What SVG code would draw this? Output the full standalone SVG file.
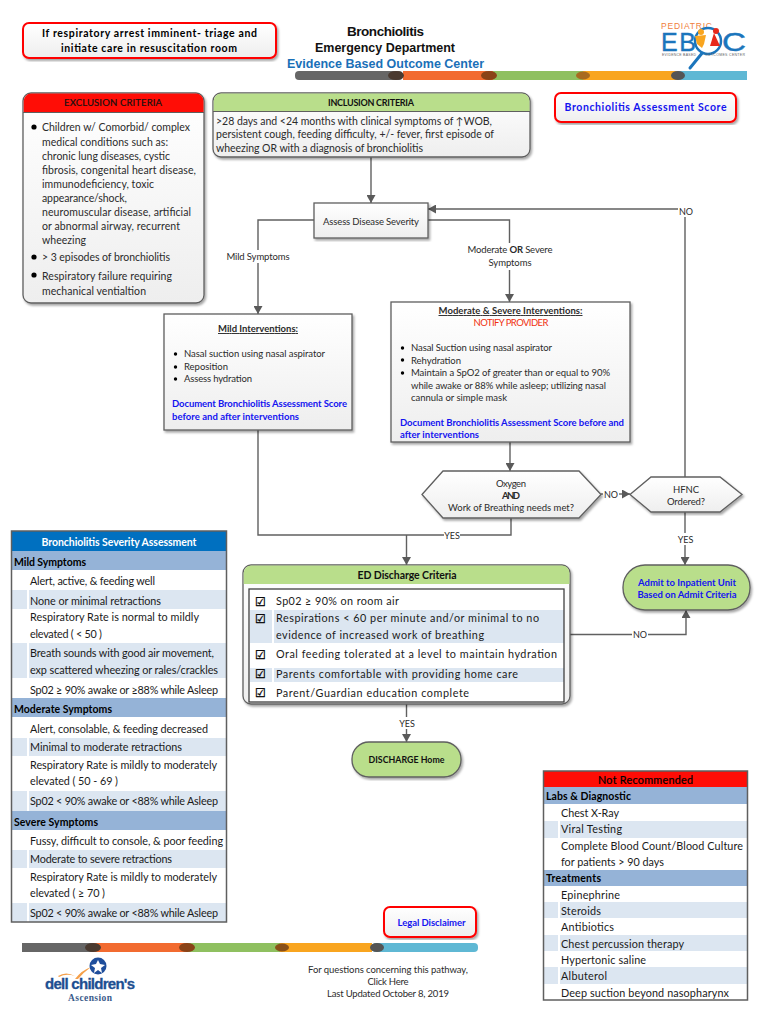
<svg xmlns="http://www.w3.org/2000/svg" width="770" height="1024" viewBox="0 0 770 1024">
<style>
text{font-family:Lato,"Carlito","DejaVu Sans",sans-serif;font-size:10.5px;fill:#2b2b2b}
.b{font-weight:700}.m{text-anchor:middle}
.t{font-size:10.8px;fill:#1a1a1a}
.tb{font-size:10.5px;font-weight:700;fill:#000}
.w{fill:#fff;font-weight:700;font-size:10.5px}
.lnk{fill:#1414f0;font-weight:700}
.s{font-size:9.500px}
.y{font-size:9px}
.a{font-family:"Liberation Sans",Arial,sans-serif;font-weight:700}
.ck{font-family:"DejaVu Sans",sans-serif;font-size:12px;fill:#000;stroke:#000;stroke-width:.3}
.lg{font-family:"Liberation Sans",sans-serif}
.box{fill:url(#g);stroke:#5f5f5f;stroke-width:1.3;filter:url(#sh)}
.red{fill:url(#g);stroke:#f00;stroke-width:2;filter:url(#sh)}
.grn{fill:#b9de8b;stroke:#5f5f5f;stroke-width:1.3;filter:url(#sh)}
.hg{fill:#b9de8b}.hr{fill:#ff0d06}
.r1{fill:#dce6f1}.r2{fill:#95b3d7}
.c{fill:none;stroke:#606060;stroke-width:1.4}
.lb{fill:#fff}
.frame{fill:none;stroke:#5f5f5f;stroke-width:1.5}
</style>
<defs>
<linearGradient id="g" x1="0" y1="0" x2="0" y2="1"><stop offset="0" stop-color="#fff"/><stop offset="1" stop-color="#eee"/></linearGradient>
<filter id="sh" x="-5%" y="-5%" width="112%" height="115%"><feDropShadow dx="1.500" dy="2" stdDeviation="1" flood-color="#000" flood-opacity=".35"/></filter>
<marker id="ar" markerUnits="userSpaceOnUse" markerWidth="9" markerHeight="9" refX="8" refY="4.500" orient="auto"><path d="M0 0L8 4.500L0 9z" fill="#5a5a5a"/></marker>
</defs>
<rect width="770" height="1024" fill="#fff"/>

<g id="band-top">
<rect x="295" y="71" width="108" height="9" rx="4" fill="#666"/><rect x="403" y="71" width="90" height="9" fill="#f26b30"/><rect x="493" y="71" width="90" height="9" fill="#8fc060"/><rect x="583" y="71" width="95" height="9" fill="#f9a51f"/><rect x="678" y="71" width="69" height="9" fill="#5fb8d4"/>
<ellipse cx="396" cy="75.500" rx="8" ry="4.500" fill="#4a3a30"/><ellipse cx="489" cy="75.500" rx="8" ry="4.500" fill="#8a4318"/><ellipse cx="583" cy="75.500" rx="7" ry="4" fill="#a86a20"/><ellipse cx="678" cy="75.500" rx="7" ry="4.500" fill="#555"/>
</g>
<g id="band-bottom">
<rect x="22" y="943" width="70" height="9" fill="#666"/><rect x="92" y="943" width="96" height="9" fill="#f26b30"/><rect x="188" y="943" width="92" height="9" fill="#8fc060"/><rect x="280" y="943" width="92" height="9" fill="#f9a51f"/><rect x="372" y="943" width="106" height="9" rx="4" fill="#5fb8d4"/>
<ellipse cx="93" cy="947.500" rx="8" ry="4.500" fill="#4a3a30"/><ellipse cx="187" cy="947.500" rx="8" ry="4.500" fill="#8a4318"/><ellipse cx="282" cy="947.500" rx="7" ry="4" fill="#8a5018"/><ellipse cx="377" cy="947.500" rx="7" ry="4.500" fill="#555"/>
</g>

<g id="title">
<text class="a m" x="385.500" y="36" style="font-size:13.500px;fill:#111" textLength="77">Bronchiolitis</text>
<text class="a m" x="385" y="52" style="font-size:12.500px;fill:#111" textLength="140">Emergency Department</text>
<text class="a m" x="385.500" y="68" style="font-size:12.500px;fill:#1a70b8" textLength="197">Evidence Based Outcome Center</text>
</g>

<g id="logo-ebooc">
<text class="lg" x="661" y="29" style="font-size:8.500px;fill:#f0803c" textLength="51">PEDIATRIC</text>
<text class="lg" x="661" y="50.500" style="font-size:25px;fill:#1b75bc;stroke:#1b75bc;stroke-width:.4" textLength="35">EB</text>
<text class="lg" transform="translate(722 50.500) scale(1.33 1)" x="0" y="0" style="font-size:25px;fill:#1b75bc;stroke:#1b75bc;stroke-width:.4">C</text>
<path d="M703 52L690 68" stroke="#1b75bc" stroke-width="3" stroke-linecap="round"/>
<circle cx="708" cy="41" r="13" fill="#fff" stroke="#1b75bc" stroke-width="2.500"/>
<path d="M695 36L706 35L704 44L702 48L697 44z" fill="#f9a51f"/><circle cx="701" cy="32" r="3" fill="#f9a51f"/>
<path d="M714 33L720 46L710 46z" fill="#e8291c"/><circle cx="716" cy="31" r="3" fill="#e8291c"/>
<text class="lg" x="662" y="56" style="font-size:3.500px;fill:#666" textLength="34">EVIDENCE BASED</text>
<text class="lg" x="705" y="56" style="font-size:3.500px;fill:#666" textLength="40">OUTCOMES CENTER</text>
</g>

<g id="connectors">
<path class="c" marker-end="url(#ar)" d="M371 157V203"/>
<path class="c" marker-end="url(#ar)" d="M314 220H258V314"/>
<path class="c" marker-end="url(#ar)" d="M428 220H509.500V302"/>
<path class="c" marker-end="url(#ar)" d="M685 477V209H428"/>
<path class="c" marker-end="url(#ar)" d="M510 442V471"/>
<path class="c" marker-end="url(#ar)" d="M601 494H630"/>
<path class="c" marker-end="url(#ar)" d="M685 512V565"/>
<path class="c" d="M258 430V535H511V518"/>
<path class="c" marker-end="url(#ar)" d="M406.500 535V565"/>
<path class="c" marker-end="url(#ar)" d="M570 634.500H686V610"/>
<path class="c" marker-end="url(#ar)" d="M406.500 704V742"/>
<rect class="lb" x="224" y="250" width="70" height="13"/>
<text class="s m" x="258" y="260" textLength="63">Mild Symptoms</text>
<rect class="lb" x="465" y="243" width="90" height="27"/>
<text class="s m" x="510" y="253" textLength="85">Moderate <tspan class="b">OR</tspan> Severe</text>
<text class="s m" x="510" y="266" textLength="43">Symptoms</text>
<rect class="lb" x="678" y="204" width="16" height="13"/>
<text class="y m" x="686" y="215">NO</text>
<rect class="lb" x="603" y="488" width="16" height="12"/>
<text class="y m" x="611" y="498">NO</text>
<rect class="lb" x="676" y="533" width="18" height="12"/>
<text class="y m" x="685.500" y="543">YES</text>
<rect class="lb" x="444" y="529" width="16" height="12"/>
<text class="y m" x="452" y="539">YES</text>
<rect class="lb" x="632" y="628" width="16" height="13"/>
<text class="y m" x="640" y="638">NO</text>
<rect class="lb" x="398" y="717" width="18" height="12"/>
<text class="y m" x="407" y="727">YES</text>
</g>

<g id="node-arrest">
<rect class="red" x="23" y="23" width="253" height="35" rx="6"/>
<text class="tb m" x="149.500" y="37" textLength="215">If respiratory arrest imminent- triage and</text>
<text class="tb m" x="149" y="52" textLength="176">initiate care in resuscitation room</text>
</g>

<g id="node-exclusion">
<rect class="box" x="23" y="93" width="181" height="210" rx="8"/>
<path class="hr" d="M23.700 112V101a7.500 7.500 0 0 1 7.500-7.500H196a7.500 7.500 0 0 1 7.500 7.500V112z"/>
<path d="M23 112.500H204" stroke="#5f5f5f" fill="none"/>
<text class="m" x="113" y="106" style="fill:#111;font-size:9.500px;stroke:#111;stroke-width:.2" textLength="98">EXCLUSION CRITERIA</text>
<circle cx="34" cy="127" r="2.600" fill="#000"/><circle cx="34" cy="257" r="2.600" fill="#000"/><circle cx="34" cy="275" r="2.600" fill="#000"/>
<text x="42" y="131" textLength="148">Children w/ Comorbid/ complex</text>
<text x="42" y="146" textLength="126">medical conditions such as:</text>
<text x="42" y="160" textLength="128">chronic lung diseases, cystic</text>
<text x="42" y="174" textLength="154">fibrosis, congenital heart disease,</text>
<text x="42" y="188" textLength="112">immunodeficiency, toxic</text>
<text x="42" y="202" textLength="85">appearance/shock,</text>
<text x="42" y="216" textLength="149">neuromuscular disease, artificial</text>
<text x="42" y="230" textLength="138">or abnormal airway, recurrent</text>
<text x="42" y="244" textLength="44">wheezing</text>
<text x="42" y="261" textLength="128">&gt; 3 episodes of bronchiolitis</text>
<text x="42" y="280" textLength="130">Respiratory failure requiring</text>
<text x="42" y="295" textLength="104">mechanical ventialtion</text>
</g>

<g id="node-inclusion">
<rect class="box" x="213" y="93" width="317" height="64" rx="8"/>
<path class="hg" d="M213.700 111V101a7.500 7.500 0 0 1 7.500-7.500H522a7.500 7.500 0 0 1 7.500 7.500V111z"/>
<path d="M213 111.500H530" stroke="#5f5f5f" fill="none"/>
<text class="b m" x="371" y="106" style="font-size:9px;fill:#111" textLength="86">INCLUSION CRITERIA</text>
<text x="216" y="125" textLength="276">&gt;28 days and &lt;24 months with clinical symptoms of ↑WOB,</text>
<text x="216" y="138" textLength="278">persistent cough, feeding difficulty, +/- fever, first episode of</text>
<text x="216" y="152" textLength="207">wheezing OR with a diagnosis of bronchiolitis</text>
</g>

<g id="node-score">
<rect class="red" x="555" y="93" width="181" height="29" rx="6"/>
<text class="lnk m" x="645.500" y="111" style="font-size:10.500px" textLength="162">Bronchiolitis Assessment Score</text>
</g>

<g id="node-assess">
<rect class="box" x="314" y="203" width="114" height="35"/>
<text class="s m" x="371" y="225" textLength="96">Assess Disease Severity</text>
</g>

<g id="node-mild">
<rect class="box" x="164" y="314" width="188" height="116"/>
<text class="b m s" x="258" y="332" text-decoration="underline" textLength="80">Mild Interventions:</text>
<circle cx="175.500" cy="354" r="1.700" fill="#000"/><circle cx="175.500" cy="367" r="1.700" fill="#000"/><circle cx="175.500" cy="379" r="1.700" fill="#000"/>
<text class="s" x="184" y="357" textLength="141">Nasal suction using nasal aspirator</text>
<text class="s" x="184" y="370" textLength="44">Reposition</text>
<text class="s" x="184" y="382" textLength="68">Assess hydration</text>
<text class="lnk s" x="172" y="407" textLength="175">Document Bronchiolitis Assessment Score</text>
<text class="lnk s" x="172" y="420" textLength="127">before and after interventions</text>
</g>

<g id="node-moderate">
<rect class="box" x="391" y="302" width="239" height="140"/>
<text class="b m s" x="510.500" y="314" text-decoration="underline" textLength="144">Moderate &amp; Severe Interventions:</text>
<text class="m s" x="511" y="326" style="fill:#f03010" textLength="75">NOTIFY PROVIDER</text>
<circle cx="402.500" cy="348" r="1.700" fill="#000"/><circle cx="402.500" cy="360" r="1.700" fill="#000"/><circle cx="402.500" cy="373" r="1.700" fill="#000"/>
<text class="s" x="411" y="351" textLength="141">Nasal Suction using nasal aspirator</text>
<text class="s" x="411" y="364" textLength="50">Rehydration</text>
<text class="s" x="411" y="376" textLength="199">Maintain a SpO2 of greater than or equal to 90%</text>
<text class="s" x="411" y="389" textLength="195">while awake or 88% while asleep; utilizing nasal</text>
<text class="s" x="411" y="401" textLength="96">cannula or simple mask</text>
<text class="lnk s" x="400" y="426" textLength="224">Document Bronchiolitis Assessment Score before and</text>
<text class="lnk s" x="400" y="438" textLength="79">after interventions</text>
</g>

<g id="node-oxygen">
<path class="box" d="M422 494.500L443 471H579L601 494.500L579 518H443z"/>
<text class="s m" x="511" y="487" textLength="30">Oxygen</text>
<text class="s b m" x="511" y="499" textLength="18">AND</text>
<text class="s m" x="511" y="511" textLength="126">Work of Breathing needs met?</text>
</g>

<g id="node-hfnc">
<path class="box" d="M630 494.500L651 477H720L742 494.500L720 512H651z"/>
<text class="s m" x="686" y="493" textLength="26">HFNC</text>
<text class="s m" x="686" y="505" textLength="38">Ordered?</text>
</g>

<g id="node-admit">
<rect class="grn" x="623" y="565" width="127" height="45" rx="22"/>
<text class="lnk m" x="687" y="585.500" style="font-size:9.500px" textLength="98">Admit to Inpatient Unit</text>
<text class="lnk m" x="687" y="598" style="font-size:9.500px" textLength="99">Based on Admit Criteria</text>
</g>

<g id="node-discharge-criteria">
<rect class="box" x="243" y="565" width="327" height="139" rx="8"/>
<path class="hg" d="M243.700 584V573a7.500 7.500 0 0 1 7.500-7.500H562a7.500 7.500 0 0 1 7.500 7.500V584z"/>
<rect x="249" y="589" width="315" height="113" fill="#fff"/>
<rect class="r1" x="250" y="610" width="22" height="33"/><rect class="r1" x="274" y="610" width="290" height="33"/>
<rect class="r1" x="250" y="668" width="22" height="14"/><rect class="r1" x="274" y="668" width="290" height="14"/>
<rect x="249" y="589" width="315" height="113" fill="none" stroke="#404040" stroke-width="1.300"/>
<text class="b m" x="407" y="579" style="fill:#111" textLength="99">ED Discharge Criteria</text>
<text class="ck" x="255" y="606">☑</text>
<text class="ck" x="255" y="623">☑</text>
<text class="ck" x="255" y="659">☑</text>
<text class="ck" x="255" y="678">☑</text>
<text class="ck" x="255" y="697">☑</text>
<text class="t" x="276" y="605" textLength="123">Sp02 ≥ 90% on room air</text>
<text class="t" x="276" y="622" textLength="263">Respirations &lt; 60 per minute and/or minimal to no</text>
<text class="t" x="276" y="639" textLength="208">evidence of increased work of breathing</text>
<text class="t" x="276" y="658" textLength="281">Oral feeding tolerated at a level to maintain hydration</text>
<text class="t" x="276" y="678" textLength="242">Parents comfortable with providing home care</text>
<text class="t" x="276" y="697" textLength="193">Parent/Guardian education complete</text>
</g>

<g id="node-discharge">
<rect class="grn" x="352" y="742" width="109" height="35" rx="17"/>
<text class="b m" x="406.500" y="763" style="font-size:8.800px;fill:#111" textLength="76">DISCHARGE Home</text>
</g>

<g id="node-severity">
<rect x="12" y="531" width="214" height="391" fill="#fff"/>
<rect x="12" y="531" width="214" height="20" fill="#0070c0"/>
<rect class="r2" x="12" y="551" width="214" height="19"/>
<rect class="r1" x="12" y="590" width="15" height="19"/><rect class="r1" x="29" y="590" width="197" height="19"/>
<rect class="r1" x="12" y="643" width="15" height="35"/><rect class="r1" x="29" y="643" width="197" height="35"/>
<rect class="r2" x="12" y="698" width="214" height="19"/>
<rect class="r1" x="12" y="738" width="15" height="18"/><rect class="r1" x="29" y="738" width="197" height="18"/>
<rect class="r1" x="12" y="791" width="15" height="20"/><rect class="r1" x="29" y="791" width="197" height="20"/>
<rect class="r2" x="12" y="811" width="214" height="19"/>
<rect class="r1" x="12" y="850" width="15" height="18"/><rect class="r1" x="29" y="850" width="197" height="18"/>
<rect class="r1" x="12" y="903" width="15" height="19"/><rect class="r1" x="29" y="903" width="197" height="19"/>
<rect class="frame" x="11.500" y="531" width="215" height="391"/>
<text class="w m" x="119" y="546" textLength="155">Bronchiolitis Severity Assessment</text>
<text class="tb" x="14" y="566" textLength="72">Mild Symptoms</text>
<text class="t" x="30" y="585" textLength="125">Alert, active, &amp; feeding well</text>
<text class="t" x="30" y="605" textLength="131">None or minimal retractions</text>
<text class="t" x="30" y="621" textLength="169">Respiratory Rate is normal to mildly</text>
<text class="t" x="30" y="638" textLength="72">elevated ( &lt; 50 )</text>
<text class="t" x="30" y="657" textLength="184">Breath sounds with good air movement,</text>
<text class="t" x="30" y="674" textLength="188">exp scattered wheezing or rales/crackles</text>
<text class="t" x="30" y="694" textLength="188">Sp02 ≥ 90%  awake or ≥88% while Asleep</text>
<text class="tb" x="14" y="713" textLength="98">Moderate Symptoms</text>
<text class="t" x="30" y="733" textLength="178">Alert, consolable, &amp; feeding decreased</text>
<text class="t" x="30" y="751" textLength="152">Minimal to moderate retractions</text>
<text class="t" x="30" y="769" textLength="187">Respiratory Rate is mildly to moderately</text>
<text class="t" x="30" y="785" textLength="88">elevated ( 50 - 69  )</text>
<text class="t" x="30" y="805" textLength="188">Sp02 &lt; 90%  awake or &lt;88% while Asleep</text>
<text class="tb" x="14" y="826" textLength="84">Severe Symptoms</text>
<text class="t" x="30" y="845" textLength="193">Fussy, difficult to console, &amp; poor feeding</text>
<text class="t" x="30" y="863" textLength="142">Moderate to severe retractions</text>
<text class="t" x="30" y="881" textLength="187">Respiratory Rate is mildly to moderately</text>
<text class="t" x="30" y="897" textLength="75">elevated ( ≥ 70  )</text>
<text class="t" x="30" y="917" textLength="188">Sp02 &lt; 90%  awake or &lt;88% while Asleep</text>
</g>

<g id="node-not-recommended">
<rect x="544" y="771" width="203" height="229" fill="#fff"/>
<rect class="hr" x="544" y="771" width="203" height="16"/>
<rect class="r2" x="544" y="787" width="203" height="17"/>
<rect class="r1" x="544" y="821" width="14" height="17"/><rect class="r1" x="560" y="821" width="187" height="17"/>
<rect class="r2" x="544" y="870" width="203" height="16"/>
<rect class="r1" x="544" y="902" width="14" height="16"/><rect class="r1" x="560" y="902" width="187" height="16"/>
<rect class="r1" x="544" y="935" width="14" height="16"/><rect class="r1" x="560" y="935" width="187" height="16"/>
<rect class="r1" x="544" y="967" width="14" height="17"/><rect class="r1" x="560" y="967" width="187" height="17"/>
<rect class="frame" x="543.500" y="771" width="204" height="229"/>
<text class="t m" x="645.500" y="784" style="fill:#000;stroke:#000;stroke-width:.2" textLength="95">Not Recommended</text>
<text class="tb" x="546" y="800" textLength="85">Labs &amp; Diagnostic</text>
<text class="t" x="561" y="817" textLength="58">Chest X-Ray</text>
<text class="t" x="561" y="833" textLength="61">Viral Testing</text>
<text class="t" x="561" y="850" textLength="182">Complete Blood Count/Blood Culture</text>
<text class="t" x="561" y="866" textLength="103">for patients &gt; 90 days</text>
<text class="tb" x="546" y="882" textLength="55">Treatments</text>
<text class="t" x="561" y="899" textLength="59">Epinephrine</text>
<text class="t" x="561" y="915" textLength="40">Steroids</text>
<text class="t" x="561" y="931" textLength="53">Antibiotics</text>
<text class="t" x="561" y="948" textLength="123">Chest percussion therapy</text>
<text class="t" x="561" y="964" textLength="85">Hypertonic saline</text>
<text class="t" x="561" y="980" textLength="46">Albuterol</text>
<text class="t" x="561" y="997" textLength="168">Deep suction beyond nasopharynx</text>
</g>

<g id="node-legal">
<rect class="red" x="384" y="907" width="92" height="30" rx="6"/>
<text class="lnk m s" x="431.500" y="926" textLength="68">Legal Disclaimer</text>
</g>

<g id="footer">
<text class="s m" x="388" y="973" textLength="160">For questions concerning this pathway,</text>
<text class="s m" x="388" y="985" textLength="41">Click Here</text>
<text class="s m" x="388" y="997" textLength="122">Last Updated October 8, 2019</text>
</g>

<g id="logo-dell">
<path d="M58 976Q66 971 75 976Q66 973 59 977z" fill="#f5a04a"/>
<path d="M75 979Q82 970 91 967Q84 972 78 979z" fill="#f5a04a"/>
<circle cx="98" cy="966" r="8.500" fill="#1f4e9c"/>
<path d="M98 960L100 964L105 965L101 968L102 973L98 970L94 973L95 968L91 965L96 964z" fill="#fff"/>
<text class="a" x="45" y="989" style="font-size:15px;fill:#1d4f91;stroke:#1d4f91;stroke-width:.3" textLength="90">dell children's</text>
<text x="68" y="1001" style="font-family:'Liberation Serif',serif;font-weight:700;font-size:9.500px;fill:#3a5a8a" textLength="44">Ascension</text>
</g>
</svg>
